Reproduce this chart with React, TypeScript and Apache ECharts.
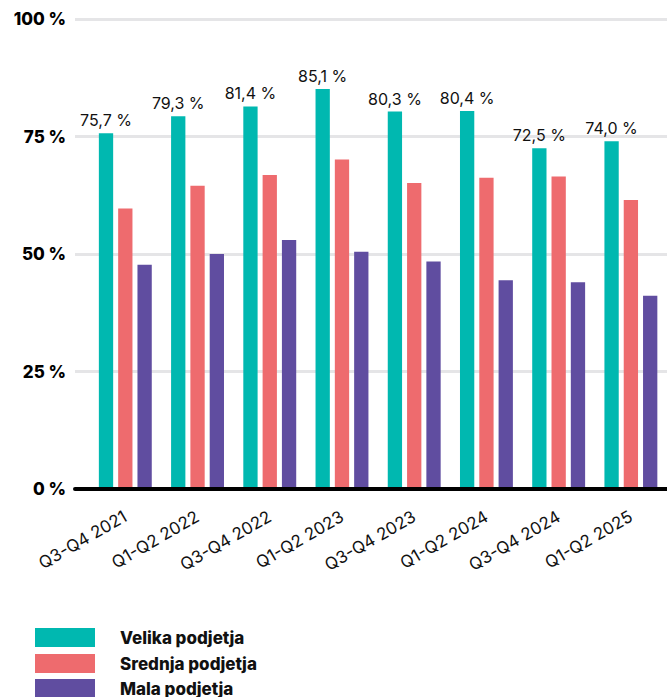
import React, { useEffect, useRef } from "react";
import * as echarts from "echarts";

const categories = [
  "Q3-Q4 2021",
  "Q1-Q2 2022",
  "Q3-Q4 2022",
  "Q1-Q2 2023",
  "Q3-Q4 2023",
  "Q1-Q2 2024",
  "Q3-Q4 2024",
  "Q1-Q2 2025",
];
const velika = [75.7, 79.3, 81.4, 85.1, 80.3, 80.4, 72.5, 74.0];
const srednja = [59.7, 64.5, 66.8, 70.1, 65.1, 66.2, 66.5, 61.5];
const mala = [47.7, 50.0, 53.0, 50.5, 48.4, 44.4, 44.0, 41.1];
const seriesNames = ["Velika podjetja", "Srednja podjetja", "Mala podjetja"];
const seriesColors = ["#00B8B0", "#EE6B6E", "#604DA0"];
const yTicks = [0, 25, 50, 75, 100];

const FONT = "Inter, 'Noto Sans', sans-serif";

export default function App() {
  const ref = useRef<HTMLDivElement>(null);
  useEffect(() => {
    if (!ref.current) return;
    const chart = echarts.init(ref.current, null, { renderer: "svg" });
    const fmt = (v: number) => v.toFixed(1).replace(".", ",") + " %";
    const legendTops = [628, 654, 679];
    chart.setOption({
      animation: false,
      color: seriesColors,
      textStyle: { fontFamily: FONT },
      grid: [
        { left: 75, right: 0, top: 19, bottom: 208 },
        { left: 89.2, right: -3.3, top: 19, bottom: 208 },
      ],
      legend: seriesNames.map((name, i) => ({
        orient: "vertical",
        left: 35,
        top: legendTops[i],
        padding: 0,
        itemWidth: 60,
        itemHeight: 19,
        icon: "rect",
        data: [name],
        selectedMode: false,
        textStyle: {
          fontFamily: FONT,
          fontWeight: 800,
          fontSize: 17,
          color: "#111",
          padding: [0, 0, 0, 20],
        },
      })),
      xAxis: [
        {
          type: "category",
          gridIndex: 0,
          data: categories,
          z: 10,
          axisLine: { show: true, lineStyle: { color: "#000", width: 4 } },
          axisTick: { show: false },
          axisLabel: { show: false },
        },
        {
          type: "category",
          gridIndex: 1,
          data: categories,
          axisLine: { show: false },
          axisTick: { show: false },
          axisLabel: {
            rotate: 30,
            margin: 26,
            fontSize: 17,
            color: "#111",
            fontFamily: FONT,
          },
        },
      ],
      yAxis: [
        {
          type: "value",
          gridIndex: 0,
          min: yTicks[0],
          max: yTicks[yTicks.length - 1],
          interval: 25,
          axisLine: { show: false },
          axisTick: { show: false },
          axisLabel: {
            margin: 9,
            fontSize: 17,
            fontWeight: 800,
            color: "#000",
            fontFamily: FONT,
            formatter: (v: number) => v + " %",
          },
          splitLine: { lineStyle: { color: "#E5E5E7", width: 3 } },
        },
        {
          type: "value",
          gridIndex: 1,
          min: 0,
          max: 100,
          interval: 25,
          show: false,
          splitLine: { show: false },
        },
      ],
      series: [
        {
          name: seriesNames[0],
          type: "bar",
          xAxisIndex: 1,
          yAxisIndex: 1,
          data: velika,
          barWidth: 14.3,
          barGap: "35%",
          itemStyle: { color: seriesColors[0] },
          label: {
            show: true,
            position: "top",
            distance: 5,
            fontSize: 16,
            color: "#111",
            fontFamily: FONT,
            formatter: (p: any) => fmt(p.value),
          },
        },
        {
          name: seriesNames[1],
          type: "bar",
          xAxisIndex: 1,
          yAxisIndex: 1,
          data: srednja,
          barWidth: 14.3,
          barGap: "35%",
          itemStyle: { color: seriesColors[1] },
        },
        {
          name: seriesNames[2],
          type: "bar",
          xAxisIndex: 1,
          yAxisIndex: 1,
          data: mala,
          barWidth: 14.3,
          barGap: "35%",
          itemStyle: { color: seriesColors[2] },
        },
      ],
    });
    return () => chart.dispose();
  }, []);
  return (
    <div
      ref={ref}
      style={{ position: "fixed", left: 0, top: 0, width: 667, height: 697, background: "#fff" }}
    />
  );
}
